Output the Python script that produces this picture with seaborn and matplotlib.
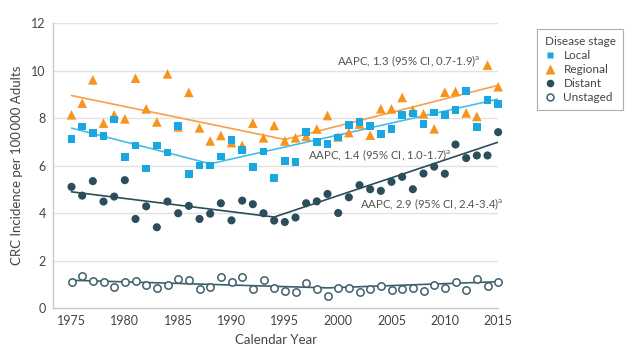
import numpy as np
import pandas as pd
import seaborn as sns
import matplotlib
matplotlib.use('Agg')
import matplotlib.pyplot as plt
from matplotlib.lines import Line2D

# 数据：各年份各分期的发病率（每10万成人）
years = list(range(1975, 2016))

local = [7.13, 7.65, 7.38, 7.24, 7.94, 6.36, 6.85, 5.88, 6.85, 6.55,
         7.66, 5.64, 6.00, 6.00, 6.38, 7.07, 6.65, 5.95, 6.59, 5.47,
         6.20, 6.15, 7.42, 6.99, 6.92, 7.18, 7.70, 7.83, 7.68, 7.34,
         7.54, 8.14, 8.19, 7.75, 8.24, 8.13, 8.34, 9.15, 7.62, 8.76,
         8.60]

regional = [8.14, 8.63, 9.61, 7.79, 8.14, 7.97, 9.68, 8.39, 7.84, 9.86,
            7.63, 9.08, 7.59, 7.04, 7.27, 6.97, 6.85, 7.79, 7.17, 7.69,
            7.04, 7.17, 7.24, 7.54, 8.11, 7.21, 7.39, 7.75, 7.28, 8.39,
            8.39, 8.87, 8.34, 8.18, 7.55, 9.09, 9.12, 8.22, 8.07, 10.23,
            9.32]

distant = [5.11, 4.74, 5.35, 4.49, 4.70, 5.39, 3.76, 4.29, 3.41, 4.49,
           4.00, 4.31, 3.76, 3.98, 4.42, 3.70, 4.53, 4.38, 4.00, 3.69,
           3.63, 3.82, 4.42, 4.50, 4.81, 4.01, 4.67, 5.18, 5.01, 4.94,
           5.32, 5.53, 5.01, 5.67, 5.96, 5.66, 6.89, 6.32, 6.43, 6.43,
           7.41]

unstaged = [1.09, 1.36, 1.14, 1.11, 0.88, 1.11, 1.16, 0.97, 0.85, 0.97,
            1.25, 1.19, 0.80, 0.90, 1.30, 1.09, 1.30, 0.81, 1.19, 0.84,
            0.74, 0.69, 1.08, 0.83, 0.53, 0.85, 0.87, 0.67, 0.80, 0.93,
            0.78, 0.83, 0.87, 0.73, 0.97, 0.87, 1.09, 0.78, 1.23, 0.92,
            1.11]

# joinpoint 趋势线的拐点
local_trend_x = [1975, 1988, 2015]
local_trend_y = [7.58, 6.08, 8.80]
regional_trend_x = [1975, 1995, 2015]
regional_trend_y = [8.95, 7.10, 9.38]
distant_trend_x = [1975, 1994, 2015]
distant_trend_y = [4.90, 3.84, 6.99]
unstaged_trend_x = [1975, 1999, 2015]
unstaged_trend_y = [1.18, 0.86, 1.12]

yticks = [0, 2, 4, 6, 8, 10, 12]
xticks = [1975, 1980, 1985, 1990, 1995, 2000, 2005, 2010, 2015]

# 颜色
c_local = '#1aa7e0'
c_local_line = '#45bdec'
c_regional = '#f7941d'
c_regional_line = '#f6a04a'
c_distant = '#2c4d5a'
c_unstaged = '#3d5f6c'

sns.set_style('white')
plt.rcParams['font.family'] = ['Lato', 'DejaVu Sans']
plt.rcParams['mathtext.fontset'] = 'custom'
plt.rcParams['mathtext.rm'] = 'Lato'
plt.rcParams['text.color'] = '#444444'

fig = plt.figure(figsize=(6.29, 3.54), dpi=100)
ax = fig.add_axes([0.084, 0.129, 0.708, 0.806])

# 网格线
for yv in yticks[1:]:
    ax.axhline(yv, color='#e2e2e2', lw=1.0, zorder=0)

# 趋势线
sns.lineplot(x=regional_trend_x, y=regional_trend_y, color=c_regional_line, lw=1.2, ax=ax, zorder=2)
sns.lineplot(x=local_trend_x, y=local_trend_y, color=c_local_line, lw=1.2, ax=ax, zorder=2)
sns.lineplot(x=distant_trend_x, y=distant_trend_y, color=c_distant, lw=1.2, ax=ax, zorder=2)
sns.lineplot(x=unstaged_trend_x, y=unstaged_trend_y, color=c_unstaged, lw=1.2, ax=ax, zorder=2)

# 散点
sns.scatterplot(x=years, y=regional, marker='^', s=48, color=c_regional, edgecolor='none', ax=ax, zorder=3, clip_on=False)
sns.scatterplot(x=years, y=local, marker='s', s=30, color=c_local, edgecolor='none', ax=ax, zorder=3, clip_on=False)
sns.scatterplot(x=years, y=distant, marker='o', s=34, color=c_distant, edgecolor='none', ax=ax, zorder=3, clip_on=False)
sns.scatterplot(x=years, y=unstaged, marker='o', s=28, color='white', edgecolor=c_unstaged, linewidth=1.1, ax=ax, zorder=3, clip_on=False)

# AAPC 注释
ax.text(1999.9, 10.37, r'AAPC, 1.3 (95% CI, 0.7-1.9)$^{\mathrm{a}}$', fontsize=8.2, ha='left', va='center', color='#555555')
ax.text(1997.2, 6.45, r'AAPC, 1.4 (95% CI, 1.0-1.7)$^{\mathrm{a}}$', fontsize=8.2, ha='left', va='center', color='#555555')
ax.text(2002.0, 4.38, r'AAPC, 2.9 (95% CI, 2.4-3.4)$^{\mathrm{a}}$', fontsize=8.2, ha='left', va='center', color='#555555')

ax.set_xlim(1973.25, 2015)
ax.set_ylim(0, 12)
ax.set_xticks(xticks)
ax.set_yticks(yticks)
ax.tick_params(axis='both', labelsize=9, colors='#444444', length=3, width=0.8, color='#c8c8c8', pad=2)
ax.set_xlabel('Calendar Year', fontsize=9.5, color='#444444', labelpad=5)
ax.set_ylabel('CRC Incidence per 100\u2009000 Adults', fontsize=9.5, color='#444444', labelpad=6)

for s in ['top', 'right']:
    ax.spines[s].set_visible(False)
for s in ['left', 'bottom']:
    ax.spines[s].set_color('#c8c8c8')
    ax.spines[s].set_linewidth(1.0)

# 图例
handles = [
    Line2D([], [], ls='none', marker='s', ms=5, color=c_local, mec='none'),
    Line2D([], [], ls='none', marker='^', ms=6.5, color=c_regional, mec='none'),
    Line2D([], [], ls='none', marker='o', ms=5.5, color=c_distant, mec='none'),
    Line2D([], [], ls='none', marker='o', ms=5, mfc='white', mec=c_unstaged, mew=1.1),
]
labels = ['Local', 'Regional', 'Distant', 'Unstaged']
leg = ax.legend(handles, labels, title='Disease stage', loc='upper left',
                bbox_to_anchor=(1.075, 1.0), frameon=True, fontsize=8.5,
                title_fontsize=8.5, handlelength=1.0, handletextpad=0.6,
                labelspacing=0.25, borderpad=0.6, alignment='left', fancybox=False)
leg.get_frame().set_edgecolor('#9a9a9a')
leg.get_frame().set_linewidth(0.8)

fig.savefig('out.png', dpi=100)
